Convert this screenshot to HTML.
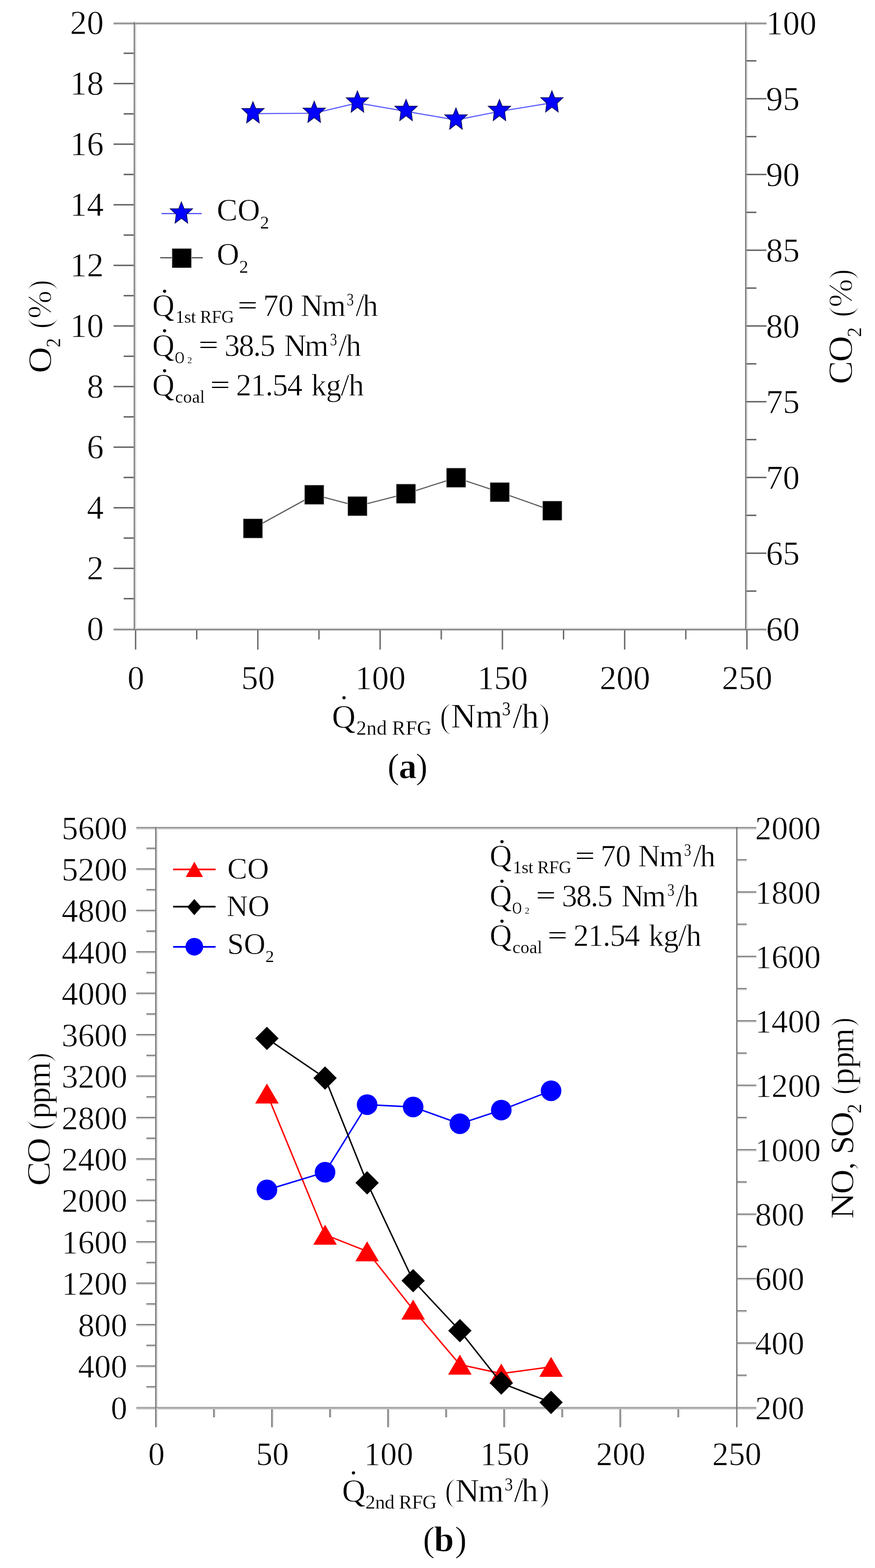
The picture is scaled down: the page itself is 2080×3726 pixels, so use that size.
<!DOCTYPE html>
<html><head><meta charset="utf-8"><title>Figure</title>
<style>
html,body{margin:0;padding:0;background:#fff;}
svg{display:block;}
svg text{font-family:'Liberation Serif','Times New Roman',serif;fill:#000;font-kerning:none;white-space:pre;stroke:#fff;}
</style></head>
<body>
<svg width="2080" height="3726" viewBox="0 0 2080 3726">
<rect width="2080" height="3726" fill="#fff"/>
<rect x="270.00" y="52.25" width="1552.00" height="2.75" fill="#c8c8c8"/>
<rect x="270.00" y="1492.25" width="1552.00" height="2.75" fill="#d2d2d2"/>
<rect x="320.75" y="52.25" width="3.00" height="1445.50" fill="#d9d9d9"/>
<rect x="1774.10" y="52.25" width="3.00" height="1445.50" fill="#d9d9d9"/>
<rect x="294.00" y="123.85" width="23.75" height="5.50" fill="#ececec"/>
<rect x="270.00" y="195.85" width="47.75" height="5.50" fill="#ececec"/>
<rect x="294.00" y="267.85" width="23.75" height="5.50" fill="#ececec"/>
<rect x="270.00" y="339.85" width="47.75" height="5.50" fill="#ececec"/>
<rect x="294.00" y="411.85" width="23.75" height="5.50" fill="#ececec"/>
<rect x="270.00" y="483.85" width="47.75" height="5.50" fill="#ececec"/>
<rect x="294.00" y="555.85" width="23.75" height="5.50" fill="#ececec"/>
<rect x="270.00" y="627.85" width="47.75" height="5.50" fill="#ececec"/>
<rect x="294.00" y="699.85" width="23.75" height="5.50" fill="#ececec"/>
<rect x="270.00" y="771.85" width="47.75" height="5.50" fill="#ececec"/>
<rect x="294.00" y="843.85" width="23.75" height="5.50" fill="#ececec"/>
<rect x="270.00" y="915.85" width="47.75" height="5.50" fill="#ececec"/>
<rect x="294.00" y="987.85" width="23.75" height="5.50" fill="#ececec"/>
<rect x="270.00" y="1059.85" width="47.75" height="5.50" fill="#ececec"/>
<rect x="294.00" y="1131.85" width="23.75" height="5.50" fill="#ececec"/>
<rect x="270.00" y="1203.85" width="47.75" height="5.50" fill="#ececec"/>
<rect x="294.00" y="1275.85" width="23.75" height="5.50" fill="#ececec"/>
<rect x="270.00" y="1347.85" width="47.75" height="5.50" fill="#ececec"/>
<rect x="294.00" y="1419.85" width="23.75" height="5.50" fill="#ececec"/>
<rect x="1774.10" y="141.85" width="23.90" height="5.50" fill="#ececec"/>
<rect x="1774.10" y="231.85" width="47.90" height="5.50" fill="#ececec"/>
<rect x="1774.10" y="321.85" width="23.90" height="5.50" fill="#ececec"/>
<rect x="1774.10" y="411.85" width="47.90" height="5.50" fill="#ececec"/>
<rect x="1774.10" y="501.85" width="23.90" height="5.50" fill="#ececec"/>
<rect x="1774.10" y="591.85" width="47.90" height="5.50" fill="#ececec"/>
<rect x="1774.10" y="681.85" width="23.90" height="5.50" fill="#ececec"/>
<rect x="1774.10" y="771.85" width="47.90" height="5.50" fill="#ececec"/>
<rect x="1774.10" y="861.85" width="23.90" height="5.50" fill="#ececec"/>
<rect x="1774.10" y="951.85" width="47.90" height="5.50" fill="#ececec"/>
<rect x="1774.10" y="1041.85" width="23.90" height="5.50" fill="#ececec"/>
<rect x="1774.10" y="1131.85" width="47.90" height="5.50" fill="#ececec"/>
<rect x="1774.10" y="1221.85" width="23.90" height="5.50" fill="#ececec"/>
<rect x="1774.10" y="1311.85" width="47.90" height="5.50" fill="#ececec"/>
<rect x="1774.10" y="1401.85" width="23.90" height="5.50" fill="#ececec"/>
<rect x="323.65" y="1497.75" width="2.50" height="45.75" fill="#ececec"/>
<rect x="468.97" y="1497.75" width="2.50" height="21.75" fill="#ececec"/>
<rect x="614.30" y="1497.75" width="2.50" height="45.75" fill="#ececec"/>
<rect x="759.62" y="1497.75" width="2.50" height="21.75" fill="#ececec"/>
<rect x="904.95" y="1497.75" width="2.50" height="45.75" fill="#ececec"/>
<rect x="1050.28" y="1497.75" width="2.50" height="21.75" fill="#ececec"/>
<rect x="1195.60" y="1497.75" width="2.50" height="45.75" fill="#ececec"/>
<rect x="1340.92" y="1497.75" width="2.50" height="21.75" fill="#ececec"/>
<rect x="1486.25" y="1497.75" width="2.50" height="45.75" fill="#ececec"/>
<rect x="1631.58" y="1497.75" width="2.50" height="21.75" fill="#ececec"/>
<rect x="1776.90" y="1497.75" width="2.50" height="45.75" fill="#ececec"/>
<rect x="324.00" y="1967.90" width="1473.80" height="2.90" fill="#c6c6c6"/>
<rect x="324.00" y="3346.10" width="1473.80" height="2.90" fill="#bababa"/>
<rect x="371.90" y="1965.00" width="3.00" height="1383.70" fill="#dedede"/>
<rect x="348.00" y="3296.69" width="20.90" height="2.90" fill="#e0e0e0"/>
<rect x="324.00" y="3247.47" width="44.90" height="2.90" fill="#e0e0e0"/>
<rect x="348.00" y="3198.26" width="20.90" height="2.90" fill="#e0e0e0"/>
<rect x="324.00" y="3149.04" width="44.90" height="2.90" fill="#e0e0e0"/>
<rect x="348.00" y="3099.83" width="20.90" height="2.90" fill="#e0e0e0"/>
<rect x="324.00" y="3050.61" width="44.90" height="2.90" fill="#e0e0e0"/>
<rect x="348.00" y="3001.40" width="20.90" height="2.90" fill="#e0e0e0"/>
<rect x="324.00" y="2952.19" width="44.90" height="2.90" fill="#e0e0e0"/>
<rect x="348.00" y="2902.97" width="20.90" height="2.90" fill="#e0e0e0"/>
<rect x="324.00" y="2853.76" width="44.90" height="2.90" fill="#e0e0e0"/>
<rect x="348.00" y="2804.54" width="20.90" height="2.90" fill="#e0e0e0"/>
<rect x="324.00" y="2755.33" width="44.90" height="2.90" fill="#e0e0e0"/>
<rect x="348.00" y="2706.11" width="20.90" height="2.90" fill="#e0e0e0"/>
<rect x="324.00" y="2656.90" width="44.90" height="2.90" fill="#e0e0e0"/>
<rect x="348.00" y="2607.69" width="20.90" height="2.90" fill="#e0e0e0"/>
<rect x="324.00" y="2558.47" width="44.90" height="2.90" fill="#e0e0e0"/>
<rect x="348.00" y="2509.26" width="20.90" height="2.90" fill="#e0e0e0"/>
<rect x="324.00" y="2460.04" width="44.90" height="2.90" fill="#e0e0e0"/>
<rect x="348.00" y="2410.83" width="20.90" height="2.90" fill="#e0e0e0"/>
<rect x="324.00" y="2361.61" width="44.90" height="2.90" fill="#e0e0e0"/>
<rect x="348.00" y="2312.40" width="20.90" height="2.90" fill="#e0e0e0"/>
<rect x="324.00" y="2263.19" width="44.90" height="2.90" fill="#e0e0e0"/>
<rect x="348.00" y="2213.97" width="20.90" height="2.90" fill="#e0e0e0"/>
<rect x="324.00" y="2164.76" width="44.90" height="2.90" fill="#e0e0e0"/>
<rect x="348.00" y="2115.54" width="20.90" height="2.90" fill="#e0e0e0"/>
<rect x="324.00" y="2066.33" width="44.90" height="2.90" fill="#e0e0e0"/>
<rect x="348.00" y="2017.11" width="20.90" height="2.90" fill="#e0e0e0"/>
<rect x="1751.60" y="3269.34" width="23.40" height="2.90" fill="#e0e0e0"/>
<rect x="1751.60" y="3192.79" width="46.20" height="2.90" fill="#e0e0e0"/>
<rect x="1751.60" y="3116.23" width="23.40" height="2.90" fill="#e0e0e0"/>
<rect x="1751.60" y="3039.68" width="46.20" height="2.90" fill="#e0e0e0"/>
<rect x="1751.60" y="2963.12" width="23.40" height="2.90" fill="#e0e0e0"/>
<rect x="1751.60" y="2886.57" width="46.20" height="2.90" fill="#e0e0e0"/>
<rect x="1751.60" y="2810.01" width="23.40" height="2.90" fill="#e0e0e0"/>
<rect x="1751.60" y="2733.46" width="46.20" height="2.90" fill="#e0e0e0"/>
<rect x="1751.60" y="2656.90" width="23.40" height="2.90" fill="#e0e0e0"/>
<rect x="1751.60" y="2580.34" width="46.20" height="2.90" fill="#e0e0e0"/>
<rect x="1751.60" y="2503.79" width="23.40" height="2.90" fill="#e0e0e0"/>
<rect x="1751.60" y="2427.23" width="46.20" height="2.90" fill="#e0e0e0"/>
<rect x="1751.60" y="2350.68" width="23.40" height="2.90" fill="#e0e0e0"/>
<rect x="1751.60" y="2274.12" width="46.20" height="2.90" fill="#e0e0e0"/>
<rect x="1751.60" y="2197.57" width="23.40" height="2.90" fill="#e0e0e0"/>
<rect x="1751.60" y="2121.01" width="46.20" height="2.90" fill="#e0e0e0"/>
<rect x="1751.60" y="2044.46" width="23.40" height="2.90" fill="#e0e0e0"/>
<rect x="371.90" y="3348.70" width="3.00" height="42.80" fill="#e0e0e0"/>
<rect x="509.87" y="3348.70" width="3.00" height="19.30" fill="#e0e0e0"/>
<rect x="647.84" y="3348.70" width="3.00" height="42.80" fill="#e0e0e0"/>
<rect x="785.81" y="3348.70" width="3.00" height="19.30" fill="#e0e0e0"/>
<rect x="923.78" y="3348.70" width="3.00" height="42.80" fill="#e0e0e0"/>
<rect x="1061.75" y="3348.70" width="3.00" height="19.30" fill="#e0e0e0"/>
<rect x="1199.72" y="3348.70" width="3.00" height="42.80" fill="#e0e0e0"/>
<rect x="1337.69" y="3348.70" width="3.00" height="19.30" fill="#e0e0e0"/>
<rect x="1475.66" y="3348.70" width="3.00" height="42.80" fill="#e0e0e0"/>
<rect x="1613.63" y="3348.70" width="3.00" height="19.30" fill="#e0e0e0"/>
<rect x="270.00" y="55.00" width="1552.00" height="2.75" fill="#858585"/>
<rect x="270.00" y="1495.00" width="1552.00" height="2.75" fill="#7a7a7a"/>
<rect x="317.75" y="52.25" width="3.00" height="1445.50" fill="#7d7d7d"/>
<rect x="1771.10" y="52.25" width="3.00" height="1445.50" fill="#7d7d7d"/>
<rect x="294.00" y="125.05" width="23.75" height="3.10" fill="#606060"/>
<rect x="270.00" y="197.05" width="47.75" height="3.10" fill="#606060"/>
<rect x="294.00" y="269.05" width="23.75" height="3.10" fill="#606060"/>
<rect x="270.00" y="341.05" width="47.75" height="3.10" fill="#606060"/>
<rect x="294.00" y="413.05" width="23.75" height="3.10" fill="#606060"/>
<rect x="270.00" y="485.05" width="47.75" height="3.10" fill="#606060"/>
<rect x="294.00" y="557.05" width="23.75" height="3.10" fill="#606060"/>
<rect x="270.00" y="629.05" width="47.75" height="3.10" fill="#606060"/>
<rect x="294.00" y="701.05" width="23.75" height="3.10" fill="#606060"/>
<rect x="270.00" y="773.05" width="47.75" height="3.10" fill="#606060"/>
<rect x="294.00" y="845.05" width="23.75" height="3.10" fill="#606060"/>
<rect x="270.00" y="917.05" width="47.75" height="3.10" fill="#606060"/>
<rect x="294.00" y="989.05" width="23.75" height="3.10" fill="#606060"/>
<rect x="270.00" y="1061.05" width="47.75" height="3.10" fill="#606060"/>
<rect x="294.00" y="1133.05" width="23.75" height="3.10" fill="#606060"/>
<rect x="270.00" y="1205.05" width="47.75" height="3.10" fill="#606060"/>
<rect x="294.00" y="1277.05" width="23.75" height="3.10" fill="#606060"/>
<rect x="270.00" y="1349.05" width="47.75" height="3.10" fill="#606060"/>
<rect x="294.00" y="1421.05" width="23.75" height="3.10" fill="#606060"/>
<rect x="1774.10" y="143.05" width="23.90" height="3.10" fill="#606060"/>
<rect x="1774.10" y="233.05" width="47.90" height="3.10" fill="#606060"/>
<rect x="1774.10" y="323.05" width="23.90" height="3.10" fill="#606060"/>
<rect x="1774.10" y="413.05" width="47.90" height="3.10" fill="#606060"/>
<rect x="1774.10" y="503.05" width="23.90" height="3.10" fill="#606060"/>
<rect x="1774.10" y="593.05" width="47.90" height="3.10" fill="#606060"/>
<rect x="1774.10" y="683.05" width="23.90" height="3.10" fill="#606060"/>
<rect x="1774.10" y="773.05" width="47.90" height="3.10" fill="#606060"/>
<rect x="1774.10" y="863.05" width="23.90" height="3.10" fill="#606060"/>
<rect x="1774.10" y="953.05" width="47.90" height="3.10" fill="#606060"/>
<rect x="1774.10" y="1043.05" width="23.90" height="3.10" fill="#606060"/>
<rect x="1774.10" y="1133.05" width="47.90" height="3.10" fill="#606060"/>
<rect x="1774.10" y="1223.05" width="23.90" height="3.10" fill="#606060"/>
<rect x="1774.10" y="1313.05" width="47.90" height="3.10" fill="#606060"/>
<rect x="1774.10" y="1403.05" width="23.90" height="3.10" fill="#606060"/>
<rect x="320.75" y="1497.75" width="2.90" height="45.75" fill="#5e5e5e"/>
<rect x="466.07" y="1497.75" width="2.90" height="21.75" fill="#5e5e5e"/>
<rect x="611.40" y="1497.75" width="2.90" height="45.75" fill="#5e5e5e"/>
<rect x="756.72" y="1497.75" width="2.90" height="21.75" fill="#5e5e5e"/>
<rect x="902.05" y="1497.75" width="2.90" height="45.75" fill="#5e5e5e"/>
<rect x="1047.38" y="1497.75" width="2.90" height="21.75" fill="#5e5e5e"/>
<rect x="1192.70" y="1497.75" width="2.90" height="45.75" fill="#5e5e5e"/>
<rect x="1338.02" y="1497.75" width="2.90" height="21.75" fill="#5e5e5e"/>
<rect x="1483.35" y="1497.75" width="2.90" height="45.75" fill="#5e5e5e"/>
<rect x="1628.67" y="1497.75" width="2.90" height="21.75" fill="#5e5e5e"/>
<rect x="1774.00" y="1497.75" width="2.90" height="45.75" fill="#5e5e5e"/>
<rect x="324.00" y="1965.00" width="1473.80" height="2.90" fill="#939393"/>
<rect x="324.00" y="3343.20" width="1473.80" height="2.90" fill="#a2a2a2"/>
<rect x="368.90" y="1965.00" width="3.00" height="1383.70" fill="#787878"/>
<rect x="1750.10" y="1965.00" width="3.00" height="1383.70" fill="#747474"/>
<rect x="348.00" y="3293.79" width="20.90" height="2.90" fill="#7c7c7c"/>
<rect x="324.00" y="3244.57" width="44.90" height="2.90" fill="#7c7c7c"/>
<rect x="348.00" y="3195.36" width="20.90" height="2.90" fill="#7c7c7c"/>
<rect x="324.00" y="3146.14" width="44.90" height="2.90" fill="#7c7c7c"/>
<rect x="348.00" y="3096.93" width="20.90" height="2.90" fill="#7c7c7c"/>
<rect x="324.00" y="3047.71" width="44.90" height="2.90" fill="#7c7c7c"/>
<rect x="348.00" y="2998.50" width="20.90" height="2.90" fill="#7c7c7c"/>
<rect x="324.00" y="2949.29" width="44.90" height="2.90" fill="#7c7c7c"/>
<rect x="348.00" y="2900.07" width="20.90" height="2.90" fill="#7c7c7c"/>
<rect x="324.00" y="2850.86" width="44.90" height="2.90" fill="#7c7c7c"/>
<rect x="348.00" y="2801.64" width="20.90" height="2.90" fill="#7c7c7c"/>
<rect x="324.00" y="2752.43" width="44.90" height="2.90" fill="#7c7c7c"/>
<rect x="348.00" y="2703.21" width="20.90" height="2.90" fill="#7c7c7c"/>
<rect x="324.00" y="2654.00" width="44.90" height="2.90" fill="#7c7c7c"/>
<rect x="348.00" y="2604.79" width="20.90" height="2.90" fill="#7c7c7c"/>
<rect x="324.00" y="2555.57" width="44.90" height="2.90" fill="#7c7c7c"/>
<rect x="348.00" y="2506.36" width="20.90" height="2.90" fill="#7c7c7c"/>
<rect x="324.00" y="2457.14" width="44.90" height="2.90" fill="#7c7c7c"/>
<rect x="348.00" y="2407.93" width="20.90" height="2.90" fill="#7c7c7c"/>
<rect x="324.00" y="2358.71" width="44.90" height="2.90" fill="#7c7c7c"/>
<rect x="348.00" y="2309.50" width="20.90" height="2.90" fill="#7c7c7c"/>
<rect x="324.00" y="2260.29" width="44.90" height="2.90" fill="#7c7c7c"/>
<rect x="348.00" y="2211.07" width="20.90" height="2.90" fill="#7c7c7c"/>
<rect x="324.00" y="2161.86" width="44.90" height="2.90" fill="#7c7c7c"/>
<rect x="348.00" y="2112.64" width="20.90" height="2.90" fill="#7c7c7c"/>
<rect x="324.00" y="2063.43" width="44.90" height="2.90" fill="#7c7c7c"/>
<rect x="348.00" y="2014.21" width="20.90" height="2.90" fill="#7c7c7c"/>
<rect x="1751.60" y="3266.44" width="23.40" height="2.90" fill="#7c7c7c"/>
<rect x="1751.60" y="3189.89" width="46.20" height="2.90" fill="#7c7c7c"/>
<rect x="1751.60" y="3113.33" width="23.40" height="2.90" fill="#7c7c7c"/>
<rect x="1751.60" y="3036.78" width="46.20" height="2.90" fill="#7c7c7c"/>
<rect x="1751.60" y="2960.22" width="23.40" height="2.90" fill="#7c7c7c"/>
<rect x="1751.60" y="2883.67" width="46.20" height="2.90" fill="#7c7c7c"/>
<rect x="1751.60" y="2807.11" width="23.40" height="2.90" fill="#7c7c7c"/>
<rect x="1751.60" y="2730.56" width="46.20" height="2.90" fill="#7c7c7c"/>
<rect x="1751.60" y="2654.00" width="23.40" height="2.90" fill="#7c7c7c"/>
<rect x="1751.60" y="2577.44" width="46.20" height="2.90" fill="#7c7c7c"/>
<rect x="1751.60" y="2500.89" width="23.40" height="2.90" fill="#7c7c7c"/>
<rect x="1751.60" y="2424.33" width="46.20" height="2.90" fill="#7c7c7c"/>
<rect x="1751.60" y="2347.78" width="23.40" height="2.90" fill="#7c7c7c"/>
<rect x="1751.60" y="2271.22" width="46.20" height="2.90" fill="#7c7c7c"/>
<rect x="1751.60" y="2194.67" width="23.40" height="2.90" fill="#7c7c7c"/>
<rect x="1751.60" y="2118.11" width="46.20" height="2.90" fill="#7c7c7c"/>
<rect x="1751.60" y="2041.56" width="23.40" height="2.90" fill="#7c7c7c"/>
<rect x="368.90" y="3348.70" width="3.00" height="42.80" fill="#747474"/>
<rect x="506.87" y="3348.70" width="3.00" height="19.30" fill="#747474"/>
<rect x="644.84" y="3348.70" width="3.00" height="42.80" fill="#747474"/>
<rect x="782.81" y="3348.70" width="3.00" height="19.30" fill="#747474"/>
<rect x="920.78" y="3348.70" width="3.00" height="42.80" fill="#747474"/>
<rect x="1058.75" y="3348.70" width="3.00" height="19.30" fill="#747474"/>
<rect x="1196.72" y="3348.70" width="3.00" height="42.80" fill="#747474"/>
<rect x="1334.69" y="3348.70" width="3.00" height="19.30" fill="#747474"/>
<rect x="1472.66" y="3348.70" width="3.00" height="42.80" fill="#747474"/>
<rect x="1610.63" y="3348.70" width="3.00" height="19.30" fill="#747474"/>
<rect x="1750.10" y="3348.70" width="3.00" height="42.80" fill="#747474"/>
<text x="246.50" y="1521.30" font-size="80" text-anchor="end" stroke-width="0.88">0</text>
<text x="246.50" y="1377.30" font-size="80" text-anchor="end" stroke-width="0.88">2</text>
<text x="246.50" y="1233.30" font-size="80" text-anchor="end" stroke-width="0.88">4</text>
<text x="246.50" y="1089.30" font-size="80" text-anchor="end" stroke-width="0.88">6</text>
<text x="246.50" y="945.30" font-size="80" text-anchor="end" stroke-width="0.88">8</text>
<text x="246.50" y="801.30" font-size="80" text-anchor="end" stroke-width="0.88">10</text>
<text x="246.50" y="657.30" font-size="80" text-anchor="end" stroke-width="0.88">12</text>
<text x="246.50" y="513.30" font-size="80" text-anchor="end" stroke-width="0.88">14</text>
<text x="246.50" y="369.30" font-size="80" text-anchor="end" stroke-width="0.88">16</text>
<text x="246.50" y="225.30" font-size="80" text-anchor="end" stroke-width="0.88">18</text>
<text x="246.50" y="81.30" font-size="80" text-anchor="end" stroke-width="0.88">20</text>
<text x="1821.00" y="1521.50" font-size="80" text-anchor="start" stroke-width="0.88">60</text>
<text x="1821.00" y="1341.50" font-size="80" text-anchor="start" stroke-width="0.88">65</text>
<text x="1821.00" y="1161.50" font-size="80" text-anchor="start" stroke-width="0.88">70</text>
<text x="1821.00" y="981.50" font-size="80" text-anchor="start" stroke-width="0.88">75</text>
<text x="1821.00" y="801.50" font-size="80" text-anchor="start" stroke-width="0.88">80</text>
<text x="1821.00" y="621.50" font-size="80" text-anchor="start" stroke-width="0.88">85</text>
<text x="1821.00" y="441.50" font-size="80" text-anchor="start" stroke-width="0.88">90</text>
<text x="1821.00" y="261.50" font-size="80" text-anchor="start" stroke-width="0.88">95</text>
<text x="1821.00" y="81.50" font-size="80" text-anchor="start" stroke-width="0.88">100</text>
<text x="323.00" y="1637.50" font-size="80" text-anchor="middle" stroke-width="0.88">0</text>
<text x="613.60" y="1637.50" font-size="80" text-anchor="middle" stroke-width="0.88">50</text>
<text x="904.20" y="1637.50" font-size="80" text-anchor="middle" stroke-width="0.88">100</text>
<text x="1194.80" y="1637.50" font-size="80" text-anchor="middle" stroke-width="0.88">150</text>
<text x="1485.40" y="1637.50" font-size="80" text-anchor="middle" stroke-width="0.88">200</text>
<text x="1776.00" y="1637.50" font-size="80" text-anchor="middle" stroke-width="0.88">250</text>
<polyline points="601.3,270.2 746.9,269.0 849.7,244.6 965.3,264.7 1083.9,285.1 1187.3,264.7 1312.0,244.3" fill="none" stroke="#5c5cff" stroke-width="2.7" stroke-linejoin="round" stroke-linecap="round"/>
<polygon points="601.30,241.60 607.90,257.90 627.90,257.90 613.70,271.20 616.30,292.20 601.30,280.80 586.30,292.20 588.90,271.20 574.70,257.90 594.70,257.90" fill="#0000ff" stroke="#0a0a50" stroke-width="1.6" stroke-linejoin="miter" stroke-miterlimit="10"/>
<polygon points="746.90,240.40 753.50,256.70 773.50,256.70 759.30,270.00 761.90,291.00 746.90,279.60 731.90,291.00 734.50,270.00 720.30,256.70 740.30,256.70" fill="#0000ff" stroke="#0a0a50" stroke-width="1.6" stroke-linejoin="miter" stroke-miterlimit="10"/>
<polygon points="849.70,216.00 856.30,232.30 876.30,232.30 862.10,245.60 864.70,266.60 849.70,255.20 834.70,266.60 837.30,245.60 823.10,232.30 843.10,232.30" fill="#0000ff" stroke="#0a0a50" stroke-width="1.6" stroke-linejoin="miter" stroke-miterlimit="10"/>
<polygon points="965.30,236.10 971.90,252.40 991.90,252.40 977.70,265.70 980.30,286.70 965.30,275.30 950.30,286.70 952.90,265.70 938.70,252.40 958.70,252.40" fill="#0000ff" stroke="#0a0a50" stroke-width="1.6" stroke-linejoin="miter" stroke-miterlimit="10"/>
<polygon points="1083.90,256.50 1090.50,272.80 1110.50,272.80 1096.30,286.10 1098.90,307.10 1083.90,295.70 1068.90,307.10 1071.50,286.10 1057.30,272.80 1077.30,272.80" fill="#0000ff" stroke="#0a0a50" stroke-width="1.6" stroke-linejoin="miter" stroke-miterlimit="10"/>
<polygon points="1187.30,236.10 1193.90,252.40 1213.90,252.40 1199.70,265.70 1202.30,286.70 1187.30,275.30 1172.30,286.70 1174.90,265.70 1160.70,252.40 1180.70,252.40" fill="#0000ff" stroke="#0a0a50" stroke-width="1.6" stroke-linejoin="miter" stroke-miterlimit="10"/>
<polygon points="1312.00,215.70 1318.60,232.00 1338.60,232.00 1324.40,245.30 1327.00,266.30 1312.00,254.90 1297.00,266.30 1299.60,245.30 1285.40,232.00 1305.40,232.00" fill="#0000ff" stroke="#0a0a50" stroke-width="1.6" stroke-linejoin="miter" stroke-miterlimit="10"/>
<polyline points="601.2,1255.7 747.0,1175.7 849.7,1202.8 965.0,1173.2 1084.2,1135.2 1188.0,1169.5 1312.9,1213.6" fill="none" stroke="#5a5a5a" stroke-width="2.7" stroke-linejoin="round" stroke-linecap="round"/>
<rect x="578.70" y="1233.20" width="45" height="45" fill="#000" stroke="#c4c4c4" stroke-width="2.6" paint-order="stroke"/>
<rect x="724.50" y="1153.20" width="45" height="45" fill="#000" stroke="#c4c4c4" stroke-width="2.6" paint-order="stroke"/>
<rect x="827.20" y="1180.30" width="45" height="45" fill="#000" stroke="#c4c4c4" stroke-width="2.6" paint-order="stroke"/>
<rect x="942.50" y="1150.70" width="45" height="45" fill="#000" stroke="#c4c4c4" stroke-width="2.6" paint-order="stroke"/>
<rect x="1061.70" y="1112.70" width="45" height="45" fill="#000" stroke="#c4c4c4" stroke-width="2.6" paint-order="stroke"/>
<rect x="1165.50" y="1147.00" width="45" height="45" fill="#000" stroke="#c4c4c4" stroke-width="2.6" paint-order="stroke"/>
<rect x="1290.40" y="1191.10" width="45" height="45" fill="#000" stroke="#c4c4c4" stroke-width="2.6" paint-order="stroke"/>
<line x1="384.00" y1="507.40" x2="479.70" y2="507.40" stroke="#5c5cff" stroke-width="3.0" stroke-linecap="butt"/>
<polygon points="431.20,479.70 437.80,496.00 457.80,496.00 443.60,509.30 446.20,530.30 431.20,518.90 416.20,530.30 418.80,509.30 404.60,496.00 424.60,496.00" fill="#0000ff" stroke="#0a0a50" stroke-width="1.6" stroke-linejoin="miter" stroke-miterlimit="10"/>
<line x1="381.00" y1="612.50" x2="482.00" y2="612.50" stroke="#5a5a5a" stroke-width="3.0" stroke-linecap="butt"/>
<rect x="409.50" y="591.00" width="45" height="45" fill="#000" stroke="#c4c4c4" stroke-width="2.6" paint-order="stroke"/>
<text x="515.36" y="524.00" font-size="74" text-anchor="start" stroke-width="0.81">CO</text>
<text x="618.16" y="543.00" font-size="43" text-anchor="start" stroke-width="0.24">2</text>
<text x="515.36" y="629.00" font-size="74" text-anchor="start" stroke-width="0.81">O</text>
<text x="568.81" y="648.00" font-size="43" text-anchor="start" stroke-width="0.24">2</text>
<text x="361.90" y="751.20" font-size="73" text-anchor="start" stroke-width="0.80">Q</text>
<text x="391.13" y="736.97" font-size="73" text-anchor="middle" stroke-width="0.80" style="stroke-width:0">&#729;</text>
<text x="361.90" y="845.60" font-size="73" text-anchor="start" stroke-width="0.80">Q</text>
<text x="391.13" y="831.37" font-size="73" text-anchor="middle" stroke-width="0.80" style="stroke-width:0">&#729;</text>
<text x="361.90" y="940.20" font-size="73" text-anchor="start" stroke-width="0.80">Q</text>
<text x="391.13" y="925.97" font-size="73" text-anchor="middle" stroke-width="0.80" style="stroke-width:0">&#729;</text>
<text x="417.21 437.89 453.92 465.27 475.45 503.14 526.18" y="767.40" font-size="42" stroke-width="0.23">1st RFG</text>
<text x="0" y="0" font-size="82.7" stroke-width="0" transform="translate(565.18,744.62) scale(1,0.726)">=</text>
<text x="625.39 661.28" y="751.20" font-size="73" stroke-width="0.80">70</text>
<text x="714.80 765.36" y="751.20" font-size="73" stroke-width="0.80">Nm</text>
<text x="1030.37" y="725.70" font-size="42" stroke-width="0.23" transform="scale(0.8,1)">3</text>
<text x="845.40 862.36" y="751.20" font-size="73" stroke-width="0.80">/h</text>
<text x="532.97" y="862.60" font-size="40" stroke-width="0.22" transform="scale(0.78,1)">O</text>
<text x="445.43" y="863.30" font-size="22" stroke-width="0.12">2</text>
<text x="0" y="0" font-size="82.7" stroke-width="0" transform="translate(472.28,839.02) scale(1,0.726)">=</text>
<text x="533.41 567.67 601.94 617.95" y="845.60" font-size="73" stroke-width="0.80">38.5</text>
<text x="675.60 724.16" y="845.60" font-size="73" stroke-width="0.80">Nm</text>
<text x="980.62" y="821.10" font-size="42" stroke-width="0.23" transform="scale(0.8,1)">3</text>
<text x="804.60 822.26" y="845.60" font-size="73" stroke-width="0.80">/h</text>
<text x="416.30 435.17 456.40 475.27" y="956.70" font-size="42" stroke-width="0.23">coal</text>
<text x="0" y="0" font-size="82.7" stroke-width="0" transform="translate(499.98,933.62) scale(1,0.726)">=</text>
<text x="560.89 595.94 630.99 647.79 682.84" y="940.20" font-size="73" stroke-width="0.80">21.54</text>
<text x="739.81 774.90 809.99 828.86" y="940.20" font-size="73" stroke-width="0.80">kg/h</text>
<text x="789.10" y="1728.50" font-size="78" stroke-width="0.86">Q</text>
<text x="817.70" y="1702.87" font-size="73" text-anchor="middle" stroke-width="0.80" style="stroke-width:0">&#729;</text>
<text x="847.09 871.35 895.60 919.86 932.11 964.38 991.34" y="1745.50" font-size="48" stroke-width="0.26">2nd RFG</text>
<text x="1044.70" y="1728.50" font-size="82" stroke-width="2.4">(</text>
<text x="1072.24 1130.80" y="1728.50" font-size="82" stroke-width="0.90">Nm</text>
<text x="1325.91" y="1700.50" font-size="46" stroke-width="0.25" transform="scale(0.9,1)">3</text>
<text x="1218.70 1240.08" y="1728.50" font-size="82" stroke-width="0.90">/h</text>
<text x="1280.26" y="1728.50" font-size="82" stroke-width="2.4">)</text>
<g transform="translate(121.40,0) rotate(-90)"><text x="0" y="0" font-size="79" stroke-width="0.87" transform="translate(-886.76,0) scale(1.097,1)">O</text><text x="0" y="0" font-size="48" stroke-width="0.26" transform="translate(-825.39,21.4) scale(0.920,1)">2</text><text x="0" y="0" font-size="80" stroke-width="2.6" transform="translate(-781.94,0) scale(1.000,1)">(</text><text x="0" y="0" font-size="80" stroke-width="1.6" transform="translate(-757.07,0) scale(1.000,1)">%</text><text x="0" y="0" font-size="80" stroke-width="2.6" transform="translate(-690.70,0) scale(1.000,1)">)</text></g>
<g transform="translate(2025.20,0) rotate(-90)"><text x="0" y="0" font-size="81" stroke-width="0.89" transform="translate(-912.92,0) scale(1.030,1)">C</text><text x="0" y="0" font-size="81" stroke-width="0.89" transform="translate(-860.24,0) scale(1.065,1)">O</text><text x="0" y="0" font-size="48" stroke-width="0.26" transform="translate(-801.07,21.5) scale(0.982,1)">2</text><text x="0" y="0" font-size="81" stroke-width="2.6" transform="translate(-754.51,0) scale(1.000,1)">(</text><text x="0" y="0" font-size="81" stroke-width="1.6" transform="translate(-730.29,0) scale(1.000,1)">%</text><text x="0" y="0" font-size="81" stroke-width="2.6" transform="translate(-665.41,0) scale(1.000,1)">)</text></g>
<text x="921.06" y="1848.50" font-size="85" stroke-width="0.93">(</text>
<text x="947.96" y="1848.50" font-size="85" font-weight="bold" stroke-width="0.93">a</text>
<text x="988.13" y="1848.50" font-size="85" stroke-width="0.93">)</text>
<text x="302.50" y="3371.50" font-size="78" text-anchor="end" stroke-width="0.86">0</text>
<text x="302.50" y="3273.07" font-size="78" text-anchor="end" stroke-width="0.86">400</text>
<text x="302.50" y="3174.64" font-size="78" text-anchor="end" stroke-width="0.86">800</text>
<text x="302.50" y="3076.21" font-size="78" text-anchor="end" stroke-width="0.86">1200</text>
<text x="302.50" y="2977.79" font-size="78" text-anchor="end" stroke-width="0.86">1600</text>
<text x="302.50" y="2879.36" font-size="78" text-anchor="end" stroke-width="0.86">2000</text>
<text x="302.50" y="2780.93" font-size="78" text-anchor="end" stroke-width="0.86">2400</text>
<text x="302.50" y="2682.50" font-size="78" text-anchor="end" stroke-width="0.86">2800</text>
<text x="302.50" y="2584.07" font-size="78" text-anchor="end" stroke-width="0.86">3200</text>
<text x="302.50" y="2485.64" font-size="78" text-anchor="end" stroke-width="0.86">3600</text>
<text x="302.50" y="2387.21" font-size="78" text-anchor="end" stroke-width="0.86">4000</text>
<text x="302.50" y="2288.79" font-size="78" text-anchor="end" stroke-width="0.86">4400</text>
<text x="302.50" y="2190.36" font-size="78" text-anchor="end" stroke-width="0.86">4800</text>
<text x="302.50" y="2091.93" font-size="78" text-anchor="end" stroke-width="0.86">5200</text>
<text x="302.50" y="1993.50" font-size="78" text-anchor="end" stroke-width="0.86">5600</text>
<text x="1795.00" y="3371.50" font-size="78" text-anchor="start" stroke-width="0.86">200</text>
<text x="1795.00" y="3218.39" font-size="78" text-anchor="start" stroke-width="0.86">400</text>
<text x="1795.00" y="3065.28" font-size="78" text-anchor="start" stroke-width="0.86">600</text>
<text x="1795.00" y="2912.17" font-size="78" text-anchor="start" stroke-width="0.86">800</text>
<text x="1795.00" y="2759.06" font-size="78" text-anchor="start" stroke-width="0.86">1000</text>
<text x="1795.00" y="2605.94" font-size="78" text-anchor="start" stroke-width="0.86">1200</text>
<text x="1795.00" y="2452.83" font-size="78" text-anchor="start" stroke-width="0.86">1400</text>
<text x="1795.00" y="2299.72" font-size="78" text-anchor="start" stroke-width="0.86">1600</text>
<text x="1795.00" y="2146.61" font-size="78" text-anchor="start" stroke-width="0.86">1800</text>
<text x="1795.00" y="1993.50" font-size="78" text-anchor="start" stroke-width="0.86">2000</text>
<text x="371.90" y="3481.20" font-size="78" text-anchor="middle" stroke-width="0.86">0</text>
<text x="647.84" y="3481.20" font-size="78" text-anchor="middle" stroke-width="0.86">50</text>
<text x="923.78" y="3481.20" font-size="78" text-anchor="middle" stroke-width="0.86">100</text>
<text x="1199.72" y="3481.20" font-size="78" text-anchor="middle" stroke-width="0.86">150</text>
<text x="1475.66" y="3481.20" font-size="78" text-anchor="middle" stroke-width="0.86">200</text>
<text x="1751.60" y="3481.20" font-size="78" text-anchor="middle" stroke-width="0.86">250</text>
<polyline points="634.5,2598.5 772.7,2934.0 872.7,2973.5 982.1,3112.0 1093.2,3242.7 1191.6,3264.0 1310.0,3248.0" fill="none" stroke="#ff0000" stroke-width="3.4" stroke-linejoin="round" stroke-linecap="round"/>
<polygon points="634.50,2574.75 662.50,2622.25 606.50,2622.25" fill="#ff0000"/>
<polygon points="772.70,2910.25 800.70,2957.75 744.70,2957.75" fill="#ff0000"/>
<polygon points="872.70,2949.75 900.70,2997.25 844.70,2997.25" fill="#ff0000"/>
<polygon points="982.10,3088.25 1010.10,3135.75 954.10,3135.75" fill="#ff0000"/>
<polygon points="1093.20,3218.95 1121.20,3266.45 1065.20,3266.45" fill="#ff0000"/>
<polygon points="1191.60,3240.25 1219.60,3287.75 1163.60,3287.75" fill="#ff0000"/>
<polygon points="1310.00,3224.25 1338.00,3271.75 1282.00,3271.75" fill="#ff0000"/>
<polyline points="634.5,2827.5 772.7,2785.5 872.7,2625.0 982.1,2630.5 1093.2,2670.3 1191.6,2637.9 1310.0,2592.0" fill="none" stroke="#0000ff" stroke-width="3.4" stroke-linejoin="round" stroke-linecap="round"/>
<circle cx="634.50" cy="2827.50" r="24.50" fill="#0000ff"/>
<circle cx="772.70" cy="2785.50" r="24.50" fill="#0000ff"/>
<circle cx="872.70" cy="2625.00" r="24.50" fill="#0000ff"/>
<circle cx="982.10" cy="2630.50" r="24.50" fill="#0000ff"/>
<circle cx="1093.20" cy="2670.30" r="24.50" fill="#0000ff"/>
<circle cx="1191.60" cy="2637.90" r="24.50" fill="#0000ff"/>
<circle cx="1310.00" cy="2592.00" r="24.50" fill="#0000ff"/>
<polyline points="634.5,2467.6 772.7,2561.7 872.7,2810.7 982.1,3043.2 1093.2,3162.1 1191.6,3286.5 1310.0,3332.6" fill="none" stroke="#000000" stroke-width="3.4" stroke-linejoin="round" stroke-linecap="round"/>
<polygon points="634.50,2439.85 662.25,2467.60 634.50,2495.35 606.75,2467.60" fill="#000"/>
<polygon points="772.70,2533.95 800.45,2561.70 772.70,2589.45 744.95,2561.70" fill="#000"/>
<polygon points="872.70,2782.95 900.45,2810.70 872.70,2838.45 844.95,2810.70" fill="#000"/>
<polygon points="982.10,3015.45 1009.85,3043.20 982.10,3070.95 954.35,3043.20" fill="#000"/>
<polygon points="1093.20,3134.35 1120.95,3162.10 1093.20,3189.85 1065.45,3162.10" fill="#000"/>
<polygon points="1191.60,3258.75 1219.35,3286.50 1191.60,3314.25 1163.85,3286.50" fill="#000"/>
<polygon points="1310.00,3304.85 1337.75,3332.60 1310.00,3360.35 1282.25,3332.60" fill="#000"/>
<line x1="411.50" y1="2066.00" x2="512.50" y2="2066.00" stroke="#ff0000" stroke-width="4" stroke-linecap="butt"/>
<polygon points="462.00,2047.55 482.50,2084.05 441.50,2084.05" fill="#ff0000"/>
<line x1="411.50" y1="2154.60" x2="512.50" y2="2154.60" stroke="#000000" stroke-width="4" stroke-linecap="butt"/>
<polygon points="461.90,2136.25 478.65,2155.50 461.90,2174.75 445.15,2155.50" fill="#000"/>
<line x1="411.50" y1="2250.00" x2="512.50" y2="2250.00" stroke="#0000ff" stroke-width="4" stroke-linecap="butt"/>
<circle cx="461.90" cy="2249.70" r="21.00" fill="#0000ff"/>
<text x="540.59" y="2088.00" font-size="71" text-anchor="start" stroke-width="0.78">CO</text>
<text x="538.15" y="2177.00" font-size="71" text-anchor="start" stroke-width="0.78">NO</text>
<text x="540.25" y="2266.70" font-size="71" text-anchor="start" stroke-width="0.78">SO</text>
<text x="631.01" y="2285.50" font-size="41" text-anchor="start" stroke-width="0.23">2</text>
<text x="1163.90" y="2059.20" font-size="73" text-anchor="start" stroke-width="0.80">Q</text>
<text x="1193.13" y="2044.97" font-size="73" text-anchor="middle" stroke-width="0.80" style="stroke-width:0">&#729;</text>
<text x="1163.90" y="2153.60" font-size="73" text-anchor="start" stroke-width="0.80">Q</text>
<text x="1193.13" y="2139.37" font-size="73" text-anchor="middle" stroke-width="0.80" style="stroke-width:0">&#729;</text>
<text x="1163.90" y="2248.20" font-size="73" text-anchor="start" stroke-width="0.80">Q</text>
<text x="1193.13" y="2233.97" font-size="73" text-anchor="middle" stroke-width="0.80" style="stroke-width:0">&#729;</text>
<text x="1219.21 1239.89 1255.92 1267.27 1277.45 1305.14 1328.18" y="2075.40" font-size="42" stroke-width="0.23">1st RFG</text>
<text x="0" y="0" font-size="82.7" stroke-width="0" transform="translate(1367.18,2052.62) scale(1,0.726)">=</text>
<text x="1427.39 1463.28" y="2059.20" font-size="73" stroke-width="0.80">70</text>
<text x="1516.80 1567.36" y="2059.20" font-size="73" stroke-width="0.80">Nm</text>
<text x="2032.87" y="2033.70" font-size="42" stroke-width="0.23" transform="scale(0.8,1)">3</text>
<text x="1647.40 1664.36" y="2059.20" font-size="73" stroke-width="0.80">/h</text>
<text x="1561.18" y="2170.60" font-size="40" stroke-width="0.22" transform="scale(0.78,1)">O</text>
<text x="1247.43" y="2171.30" font-size="22" stroke-width="0.12">2</text>
<text x="0" y="0" font-size="82.7" stroke-width="0" transform="translate(1274.28,2147.02) scale(1,0.726)">=</text>
<text x="1335.41 1369.67 1403.94 1419.95" y="2153.60" font-size="73" stroke-width="0.80">38.5</text>
<text x="1477.60 1526.16" y="2153.60" font-size="73" stroke-width="0.80">Nm</text>
<text x="1983.12" y="2129.10" font-size="42" stroke-width="0.23" transform="scale(0.8,1)">3</text>
<text x="1606.60 1624.26" y="2153.60" font-size="73" stroke-width="0.80">/h</text>
<text x="1218.30 1237.17 1258.40 1277.27" y="2264.70" font-size="42" stroke-width="0.23">coal</text>
<text x="0" y="0" font-size="82.7" stroke-width="0" transform="translate(1301.98,2241.62) scale(1,0.726)">=</text>
<text x="1362.89 1397.94 1432.99 1449.79 1484.84" y="2248.20" font-size="73" stroke-width="0.80">21.54</text>
<text x="1541.81 1576.90 1611.99 1630.86" y="2248.20" font-size="73" stroke-width="0.80">kg/h</text>
<text x="812.94" y="3567.50" font-size="77" stroke-width="0.85">Q</text>
<text x="840.20" y="3544.87" font-size="73" text-anchor="middle" stroke-width="0.80" style="stroke-width:0">&#729;</text>
<text x="868.83 891.63 914.42 937.21 948.25 978.90 1004.33" y="3585.00" font-size="47" stroke-width="0.26">2nd RFG</text>
<text x="1056.73" y="3567.50" font-size="79" stroke-width="2.4">(</text>
<text x="1082.32 1136.29" y="3567.50" font-size="79" stroke-width="0.87">Nm</text>
<text x="1332.78" y="3542.30" font-size="44" stroke-width="0.24" transform="scale(0.9,1)">3</text>
<text x="1221.80 1239.84" y="3567.50" font-size="79" stroke-width="0.87">/h</text>
<text x="1280.65" y="3567.50" font-size="79" stroke-width="2.4">)</text>
<g transform="translate(118.40,0) rotate(-90)"><text x="0" y="0" font-size="79" stroke-width="0.87" transform="translate(-2817.92,0) scale(1.100,1)">C</text><text x="0" y="0" font-size="79" stroke-width="0.87" transform="translate(-2764.36,0) scale(1.068,1)">O</text><text x="0" y="0" font-size="79" stroke-width="2.6" transform="translate(-2686.07,0) scale(1.000,1)">(</text><text x="0" y="0" font-size="79" stroke-width="0.87" transform="translate(-2658.46,0) scale(0.990,1)">p</text><text x="0" y="0" font-size="79" stroke-width="0.87" transform="translate(-2622.66,0) scale(0.993,1)">p</text><text x="0" y="0" font-size="79" stroke-width="0.87" transform="translate(-2585.89,0) scale(1.021,1)">m</text><text x="0" y="0" font-size="79" stroke-width="2.6" transform="translate(-2526.39,0) scale(1.000,1)">)</text></g>
<g transform="translate(2028.20,0) rotate(-90)"><text x="0" y="0" font-size="79" stroke-width="0.87" transform="translate(-2896.48,0) scale(1.100,1)">N</text><text x="0" y="0" font-size="79" stroke-width="0.87" transform="translate(-2837.23,0) scale(1.026,1)">O</text><text x="0" y="0" font-size="79" stroke-width="1.6" transform="translate(-2780.44,0) scale(1.000,1)">,</text><text x="0" y="0" font-size="79" stroke-width="0.87" transform="translate(-2743.34,0) scale(1.010,1)">S</text><text x="0" y="0" font-size="79" stroke-width="0.87" transform="translate(-2702.16,0) scale(1.068,1)">O</text><text x="0" y="0" font-size="48" stroke-width="0.26" transform="translate(-2645.70,18.6) scale(0.946,1)">2</text><text x="0" y="0" font-size="79" stroke-width="2.6" transform="translate(-2602.32,0) scale(1.000,1)">(</text><text x="0" y="0" font-size="79" stroke-width="0.87" transform="translate(-2577.38,0) scale(1.005,1)">p</text><text x="0" y="0" font-size="79" stroke-width="0.87" transform="translate(-2538.46,0) scale(0.990,1)">p</text><text x="0" y="0" font-size="79" stroke-width="0.87" transform="translate(-2501.97,0) scale(0.948,1)">m</text><text x="0" y="0" font-size="79" stroke-width="2.6" transform="translate(-2442.99,0) scale(1.000,1)">)</text></g>
<text x="1005.26" y="3686.40" font-size="85" stroke-width="0.93">(</text>
<text x="1031.72" y="3686.40" font-size="85" font-weight="bold" stroke-width="0.93">b</text>
<text x="1081.33" y="3686.40" font-size="85" stroke-width="0.93">)</text>
</svg>
</body></html>
